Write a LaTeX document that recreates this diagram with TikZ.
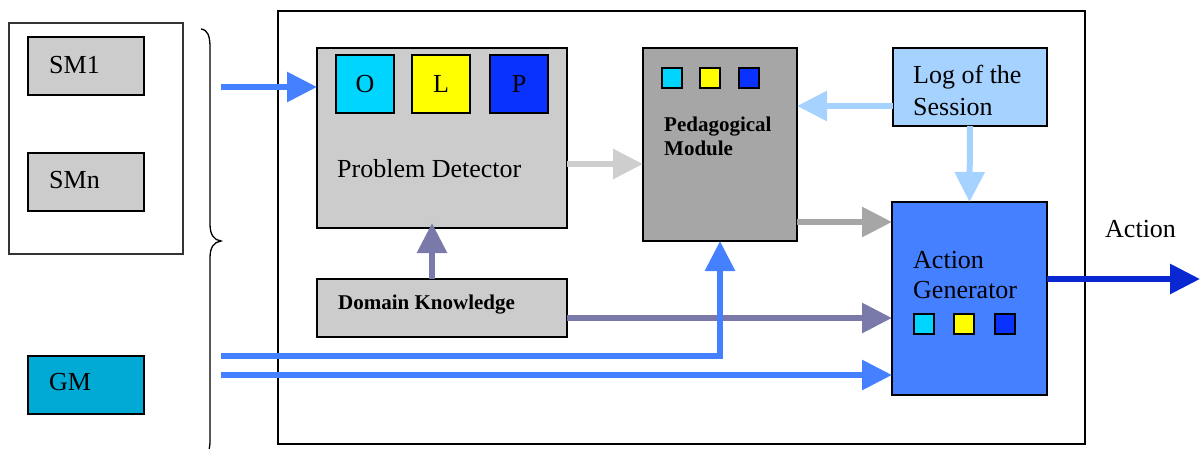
\documentclass[tikz,border=0pt]{standalone}
\usepackage{fontspec}
\setmainfont{Liberation Serif}
\usetikzlibrary{arrows.meta}
\definecolor{bluA}{RGB}{68,128,255}
\definecolor{dkA}{RGB}{122,122,170}
\definecolor{lgA}{RGB}{206,206,206}
\definecolor{gA}{RGB}{166,166,166}
\definecolor{lbA}{RGB}{166,210,255}
\definecolor{dbA}{RGB}{10,40,210}
\definecolor{boxG}{RGB}{204,204,204}
\definecolor{gmC}{RGB}{0,170,212}
\definecolor{cyC}{RGB}{0,213,255}
\definecolor{yeC}{RGB}{255,255,0}
\definecolor{blC}{RGB}{10,50,255}
\tikzset{
  box/.style={draw=black, line width=1.5pt, inner sep=0pt, outer sep=0pt, anchor=north west},
  sq/.style={draw=black, line width=1.2pt, inner sep=0pt, outer sep=0pt, minimum width=20pt, minimum height=20pt, anchor=north west},
  bigsq/.style={draw=black, line width=1.5pt, inner sep=0pt, outer sep=0pt, minimum width=58pt, minimum height=58pt, anchor=north west, font=\fontsize{26}{30}\selectfont},
  txt/.style={inner sep=0pt, anchor=base west, font=\fontsize{26}{30}\selectfont},
  btxt/.style={inner sep=0pt, anchor=base west, font=\fontsize{21}{24}\selectfont\bfseries},
  arr/.style={line width=6pt, -{Triangle[length=30pt,width=29pt]}}
}
\begin{document}
\begin{tikzpicture}[x=1pt,y=-1pt]
\useasboundingbox (0,0) rectangle (1203,448);
% left group
\node[box, draw=black!80, minimum width=174pt, minimum height=231pt] (smgroup) at (9,23) {};
\node[box, fill=boxG, minimum width=116pt, minimum height=58pt] (sm1) at (28,37) {};
\node[box, fill=boxG, minimum width=116pt, minimum height=58pt] (smn) at (28,153) {};
\node[box, fill=gmC, minimum width=116pt, minimum height=58pt] (gm) at (28,356) {};
\node[txt] (tsm1) at (49,73) {SM1};
\node[txt] (tsmn) at (49,188) {SMn};
\node[txt] (tgm) at (49,390) {GM};
% brace
\draw[line width=1.3pt] (201,29) .. controls (208,30) and (210,36) .. (210,48)
  -- (210,224) .. controls (210,235) and (214,240) .. (221,241)
  .. controls (214,242) and (210,247) .. (210,258)
  -- (210,440) .. controls (210,450) and (208,455) .. (203,458);
% main box
\node[box, minimum width=807pt, minimum height=433pt] (main) at (278,11) {};
% problem detector
\node[box, fill=boxG, minimum width=250pt, minimum height=180pt] (pd) at (317,48) {};
\node[bigsq, fill=cyC] (o) at (336,55) {O};
\node[bigsq, fill=yeC] (l) at (412,55) {L};
\node[bigsq, fill=blC] (p) at (490,55) {P};
\node[txt] (tpd) at (337,177) {Problem Detector};
% domain knowledge
\node[box, fill=boxG, minimum width=250pt, minimum height=58pt] (dk) at (317,279) {};
\node[btxt] (tdk) at (338,309) {Domain Knowledge};
% pedagogical module
\node[box, fill=gA, minimum width=154pt, minimum height=193pt] (pm) at (643,48) {};
\node[sq, fill=cyC] (pm1) at (662,68) {};
\node[sq, fill=yeC] (pm2) at (700,68) {};
\node[sq, fill=blC] (pm3) at (739,68) {};
\node[btxt] (tpm1) at (664,131) {Pedagogical};
\node[btxt] (tpm2) at (664,155) {Module};
% log
\node[box, fill=lbA, minimum width=154pt, minimum height=78pt] (log) at (893,48) {};
\node[txt] (tlog1) at (913,83) {Log of the};
\node[txt] (tlog2) at (913,115) {Session};
% action generator
\node[box, fill=bluA, minimum width=155pt, minimum height=193pt] (ag) at (892,202) {};
\node[txt] (tag1) at (913,268) {Action};
\node[txt] (tag2) at (913,298) {Generator};
\node[sq, fill=cyC] (ag1) at (914,314) {};
\node[sq, fill=yeC] (ag2) at (954,314) {};
\node[sq, fill=blC] (ag3) at (995,314) {};
\node[txt] (tact) at (1105,237) {Action};
% coordinates
\coordinate (smin) at (221,87);
\coordinate (g1) at (221,356);
\coordinate (g2) at (221,375);
\coordinate (a1) at ([yshift=-26pt]pd.east);
\coordinate (a2) at ([yshift=-19pt]log.west);
\coordinate (a3) at ([yshift=19pt]pm.south east);
\coordinate (a4) at ([yshift=-10pt]dk.east);
\coordinate (a5) at ([yshift=19.5pt]ag.east);
\coordinate (a6) at ([xshift=-10pt]dk.north);
\coordinate (out) at (1200,279);
% arrows
\draw[arr, bluA] (smin) -- (smin -| pd.west);
\draw[arr, dkA] (a6) -- ([yshift=5pt]a6 |- pd.south);
\draw[arr, lgA] (a1) -- (a1 -| pm.west);
\draw[arr, lbA] (a2) -- (a2 -| pm.east);
\draw[arr, lbA] (log.south) -- (ag.north);
\draw[arr, gA] (a3) -- (a3 -| ag.west);
\draw[arr, dkA] (a4) -- (a4 -| ag.west);
\draw[arr, bluA] (g1) -| (pm.south);
\draw[arr, bluA] (g2) -- (g2 -| ag.west);
\draw[arr, dbA] (a5) -- (out);
\end{tikzpicture}
\end{document}
